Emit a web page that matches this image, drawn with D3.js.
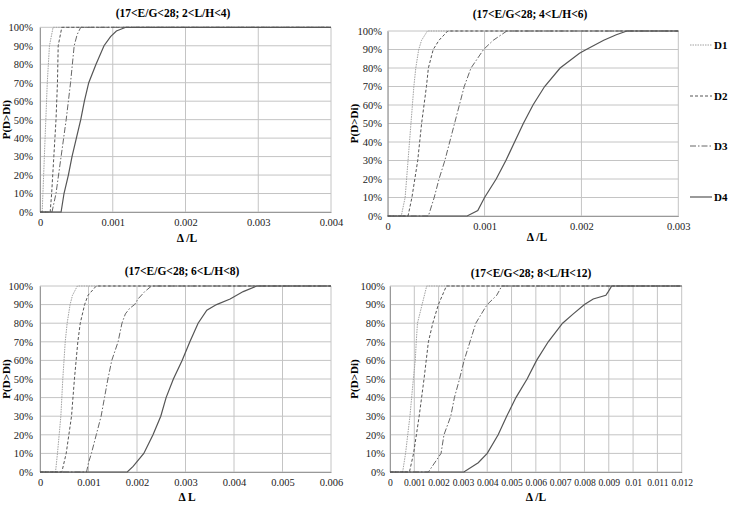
<!DOCTYPE html>
<html>
<head>
<meta charset="utf-8">
<script src="https://cdn.jsdelivr.net/npm/d3@7"></script>
<style>
body { margin: 0; background: #fff; }
</style>
</head>
<body>
<script>
// Data: [delta / L, P(D>Di) in %]
const seriesNames = ["D1", "D2", "D3", "D4"]
const yTicks = [0, 10, 20, 30, 40, 50, 60, 70, 80, 90, 100]

const p1Title = "(17<E/G<28; 2<L/H<4)"
const p1XLabel = "\u0394 /L"
const p1XTicks = [0, 0.001, 0.002, 0.003, 0.004]
const p1D1 = [[0,0],[0.00003,0],[0.00004,10],[0.00006,30],[0.00008,50],[0.0001,70],[0.00013,90],[0.00018,100],[0.004,100]]
const p1D2 = [[0,0],[0.00014,0],[0.00016,10],[0.00019,30],[0.00022,50],[0.00024,70],[0.00025,90],[0.0003,100],[0.004,100]]
const p1D3 = [[0,0],[0.000165,0],[0.00022,10],[0.00029,30],[0.00036,50],[0.00042,70],[0.00047,90],[0.00051,96],[0.00056,100],[0.004,100]]
const p1D4 = [[0,0],[0.00029,0],[0.00033,10],[0.00039,20],[0.00044,30],[0.0005,40],[0.00056,50],[0.00061,60],[0.00067,70],[0.00077,80],[0.00088,90],[0.00097,95],[0.00105,98],[0.00118,100],[0.004,100]]

const p2Title = "(17<E/G<28; 4<L/H<6)"
const p2XLabel = "\u0394 /L"
const p2XTicks = [0, 0.001, 0.002, 0.003]
const p2D1 = [[0,0],[0.00014,0],[0.00018,10],[0.00021,30],[0.00024,50],[0.00027,70],[0.00029,80],[0.00032,90],[0.00035,95],[0.00041,100],[0.003,100]]
const p2D2 = [[0,0],[0.00021,0],[0.00025,10],[0.00031,30],[0.00035,50],[0.0004,70],[0.00042,80],[0.00047,90],[0.00053,95],[0.00062,100],[0.003,100]]
const p2D3 = [[0,0],[0.00042,0],[0.00048,10],[0.00053,20],[0.00059,30],[0.00064,40],[0.00069,50],[0.00074,60],[0.00079,70],[0.00086,80],[0.00099,90],[0.00109,95],[0.00123,100],[0.003,100]]
const p2D4 = [[0,0],[0.00082,0],[0.00093,3],[0.001,10],[0.00112,20],[0.00122,30],[0.00131,40],[0.0014,50],[0.0015,60],[0.00162,70],[0.00178,80],[0.00198,88],[0.00205,90],[0.00223,95],[0.00236,98],[0.00247,100],[0.003,100]]

const p3Title = "(17<E/G<28; 6<L/H<8)"
const p3XLabel = "\u0394 L"
const p3XTicks = [0, 0.001, 0.002, 0.003, 0.004, 0.005, 0.006]
const p3D1 = [[0,0],[0.00032,0],[0.00036,10],[0.00043,30],[0.00047,50],[0.00052,70],[0.00056,80],[0.00062,90],[0.00067,95],[0.00077,100],[0.006,100]]
const p3D2 = [[0,0],[0.00045,0],[0.00054,10],[0.00065,30],[0.00071,50],[0.00078,70],[0.00083,80],[0.00092,90],[0.00099,95],[0.00116,100],[0.006,100]]
const p3D3 = [[0,0],[0.00096,0],[0.001,5],[0.00106,10],[0.00116,20],[0.00126,30],[0.00133,40],[0.0014,50],[0.00148,60],[0.00161,70],[0.00169,80],[0.00176,85],[0.00185,88],[0.00195,90],[0.00202,93],[0.00216,97],[0.0023,100],[0.006,100]]
const p3D4 = [[0,0],[0.0018,0],[0.00192,3],[0.00214,10],[0.00233,20],[0.00249,30],[0.0026,40],[0.00275,50],[0.00293,60],[0.00309,70],[0.00326,80],[0.00344,87],[0.00364,90],[0.00392,93],[0.00419,97],[0.00447,100],[0.006,100]]

const p4Title = "(17<E/G<28; 8<L/H<12)"
const p4XLabel = "\u0394 /L"
const p4XTicks = [0, 0.001, 0.002, 0.003, 0.004, 0.005, 0.006, 0.007, 0.008, 0.009, 0.01, 0.011, 0.012]
const p4D1 = [[0,0],[0.00052,0],[0.00064,10],[0.00082,30],[0.00096,50],[0.00104,60],[0.00108,70],[0.00113,80],[0.00132,90],[0.00151,100],[0.012,100]]
const p4D2 = [[0,0],[0.0008,0],[0.00097,10],[0.0012,30],[0.0014,50],[0.00158,70],[0.00176,80],[0.00199,90],[0.00232,100],[0.012,100]]
const p4D3 = [[0,0],[0.00158,0],[0.0021,10],[0.00222,20],[0.0025,30],[0.00265,40],[0.00286,50],[0.00305,60],[0.00329,70],[0.00353,80],[0.0039,88],[0.004,90],[0.00439,95],[0.0046,100],[0.012,100]]
const p4D4 = [[0,0],[0.00304,0],[0.00363,5],[0.004,10],[0.00445,20],[0.0048,30],[0.00518,40],[0.00564,50],[0.00603,60],[0.00651,70],[0.0071,80],[0.00754,85],[0.008,90],[0.00836,93],[0.00888,95],[0.00898,97],[0.00912,100],[0.012,100]]

let main = () => {
    const width = 729
    const height = 513
    const font = "'Liberation Serif', 'Times New Roman', serif"
    const gridColor = "#c4c4c4"

    // Line style per series
    const styles = [
        { stroke: "#a0a0a0", dash: "1.5,1", w: 1 },
        { stroke: "#555", dash: "3,2", w: 1 },
        { stroke: "#666", dash: "6,2,1.5,2", w: 1 },
        { stroke: "#555", dash: null, w: 1.2 },
    ]

    const panels = [
        { title: p1Title, xLabel: p1XLabel, ticks: p1XTicks, series: [p1D1, p1D2, p1D3, p1D4], tickFont: 10.5,
          x0: 40, x1: 331, yTop: 27.3, yBot: 212, titleX: 173, titleY: 13, labelX: 187, labelY: 238, yTitleX: 6, tickRight: 33 },
        { title: p2Title, xLabel: p2XLabel, ticks: p2XTicks, series: [p2D1, p2D2, p2D3, p2D4], tickFont: 10.5,
          x0: 387.7, x1: 678.3, yTop: 31, yBot: 216, titleX: 530, titleY: 13.5, labelX: 537, labelY: 237, yTitleX: 354, tickRight: 382 },
        { title: p3Title, xLabel: p3XLabel, ticks: p3XTicks, series: [p3D1, p3D2, p3D3, p3D4], tickFont: 10.5,
          x0: 40, x1: 331, yTop: 286, yBot: 472, titleX: 182, titleY: 271, labelX: 187, labelY: 497, yTitleX: 6, tickRight: 33 },
        { title: p4Title, xLabel: p4XLabel, ticks: p4XTicks, series: [p4D1, p4D2, p4D3, p4D4], tickFont: 9.6,
          x0: 390, x1: 681.7, yTop: 286, yBot: 472, titleX: 531, titleY: 273, labelX: 536, labelY: 497, yTitleX: 354, tickRight: 385 },
    ]

    let svg = d3.select("body")
        .append("svg")
        .attr("width", width)
        .attr("height", height)
        .style("display", "block")
        .style("font-family", font)

    panels.forEach(p => {
        const xMax = p.ticks[p.ticks.length - 1]
        let xScale = d3.scaleLinear().domain([0, xMax]).range([p.x0, p.x1])
        let yScale = d3.scaleLinear().domain([0, 100]).range([p.yBot, p.yTop])
        let g = svg.append("g")

        // Gridlines
        g.selectAll(".hGrid")
            .data(yTicks).enter().append("line")
            .attr("x1", p.x0).attr("x2", p.x1)
            .attr("y1", d => yScale(d)).attr("y2", d => yScale(d))
            .attr("stroke", gridColor).attr("stroke-width", 1)
        g.selectAll(".vGrid")
            .data(p.ticks).enter().append("line")
            .attr("x1", d => xScale(d)).attr("x2", d => xScale(d))
            .attr("y1", p.yTop).attr("y2", p.yBot)
            .attr("stroke", gridColor).attr("stroke-width", 1)

        // Axes
        let xAxis = g.append("g")
            .attr("transform", `translate(0, ${p.yBot})`)
            .call(d3.axisBottom(xScale).tickValues(p.ticks).tickFormat(d3.format("~g")).tickSize(0).tickPadding(7))
        let yAxis = g.append("g")
            .attr("transform", `translate(${p.x0}, 0)`)
            .call(d3.axisLeft(yScale).tickValues(yTicks).tickFormat(d => d + "%").tickSize(0).tickPadding(p.x0 - p.tickRight))
        xAxis.selectAll("text").style("font-size", p.tickFont + "px")
        yAxis.selectAll("text").style("font-size", "10.5px")
        ;[xAxis, yAxis].forEach(a => {
            a.select(".domain").attr("stroke", "#999")
            a.selectAll("text").style("font-family", font).attr("fill", "#222")
        })

        // Curves
        p.series.forEach((s, i) => {
            g.append("path")
                .datum(s)
                .attr("d", d3.line().x(d => xScale(d[0])).y(d => yScale(d[1])))
                .attr("fill", "none")
                .attr("stroke", styles[i].stroke)
                .attr("stroke-width", styles[i].w)
                .attr("stroke-dasharray", styles[i].dash)
        })

        // Titles
        g.append("text")
            .attr("x", p.titleX).attr("y", p.titleY)
            .attr("text-anchor", "middle").attr("dominant-baseline", "central")
            .style("font-size", "11.5px").style("font-weight", "bold")
            .text(p.title)
        g.append("text")
            .attr("x", p.labelX).attr("y", p.labelY)
            .attr("text-anchor", "middle").attr("dominant-baseline", "central")
            .style("font-size", "11.5px").style("font-weight", "bold")
            .text(p.xLabel)
        g.append("text")
            .attr("transform", `translate(${p.yTitleX}, ${(p.yTop + p.yBot) / 2}) rotate(-90)`)
            .attr("text-anchor", "middle").attr("dominant-baseline", "central")
            .style("font-size", "11px").style("font-weight", "bold")
            .text("P(D>Di)")
    })

    // Legend at the right edge
    const legendY = [45, 96, 146, 197]
    seriesNames.forEach((name, i) => {
        svg.append("line")
            .attr("x1", 690).attr("x2", 712)
            .attr("y1", legendY[i]).attr("y2", legendY[i])
            .attr("stroke", styles[i].stroke)
            .attr("stroke-width", styles[i].w)
            .attr("stroke-dasharray", styles[i].dash)
        svg.append("text")
            .attr("x", 714).attr("y", legendY[i])
            .attr("dominant-baseline", "central")
            .style("font-size", "11px").style("font-weight", "bold")
            .text(name)
    })
}

main()
</script>
</body>
</html>
